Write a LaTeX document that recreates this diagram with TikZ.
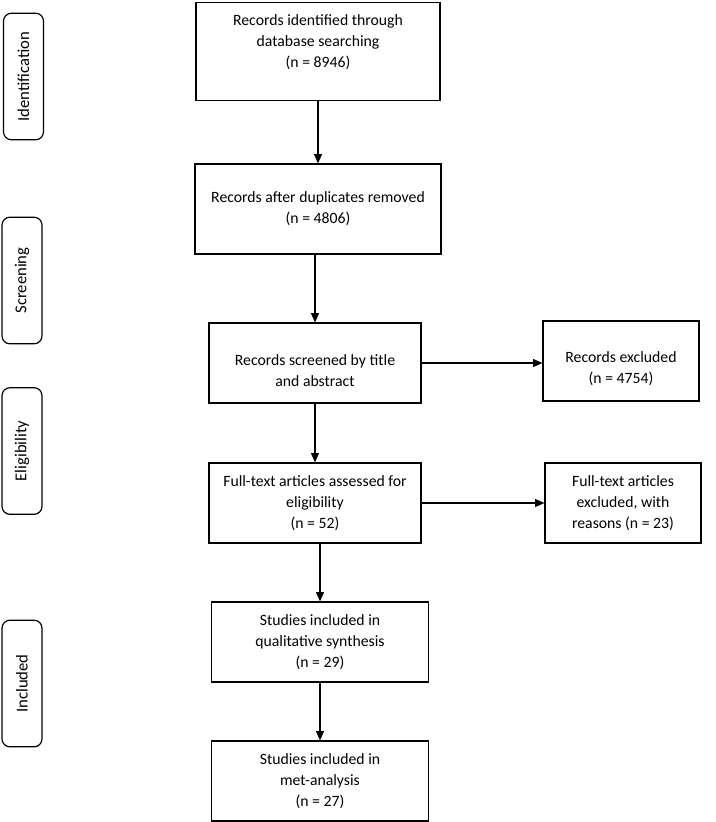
\documentclass[tikz,border=0pt]{standalone}
\usepackage{fontspec}
\setmainfont{Carlito}
\usetikzlibrary{arrows.meta}

\begin{document}
\begin{tikzpicture}[x=0.75pt,y=-0.75pt,
	box/.style={draw,line width=0.9pt,rectangle,align=center,inner sep=2pt,
		font=\fontsize{11.8}{15.9}\selectfont},
	phase/.style={draw,line width=0.9pt,rounded corners=6pt,rotate=90,
		minimum width=95pt,minimum height=30pt,font=\fontsize{12.5}{14}\selectfont},
	flow/.style={line width=0.8pt,-{Triangle[length=7pt,width=6pt]}}]
	\useasboundingbox (0,0) rectangle (716,822);
	% stages on the left
	\node[phase] (ident) at (23.5,76.5) {Identification};
	\node[phase] (screen) at (22,280.5) {Screening};
	\node[phase] (elig) at (22,451) {Eligibility};
	\node[phase] (incl) at (22,683.5) {Included};
	% main column
	\node[box,minimum width=183pt,minimum height=74pt] (found) at (318,51.5)
		{Records identified through\\database searching\\(n = 8946)\\~};
	\node[box,minimum width=184.5pt,minimum height=67.5pt] (dedup) at (318,209)
		{Records after duplicates removed\\(n = 4806)};
	\node[box,minimum width=159pt,minimum height=60pt] (title) at (315,363)
		{\rule{0pt}{20pt}Records screened by title\\and abstract};
	\node[box,minimum width=159pt,minimum height=60pt] (full) at (315,503)
		{Full-text articles assessed for\\eligibility\\(n = 52)};
	\node[box,minimum width=163pt,minimum height=60pt] (qual) at (320,642)
		{Studies included in\\qualitative synthesis\\(n = 29)};
	\node[box,minimum width=163pt,minimum height=60pt] (meta) at (320,781)
		{Studies included in\\met-analysis\\(n = 27)};
	% exclusions
	\node[box,minimum width=117pt,minimum height=60pt] (excl) at (621,361)
		{\rule{0pt}{20pt}Records excluded\\(n = 4754)};
	\node[box,minimum width=117pt,minimum height=60pt] (exfull) at (623,503)
		{Full-text articles\\excluded, with\\reasons (n = 23)};
	% arrows
	\draw[flow] (found.south) -- (dedup.north);
	\draw[flow] (title.north |- dedup.south) -- (title.north);
	\draw[flow] (title.south) -- (full.north);
	\draw[flow] (qual.north |- full.south) -- (qual.north);
	\draw[flow] (qual.south) -- (meta.north);
	\draw[flow] (title.east) -- (title.east -| excl.west);
	\draw[flow] (full.east) -- (exfull.west);
\end{tikzpicture}
\end{document}
